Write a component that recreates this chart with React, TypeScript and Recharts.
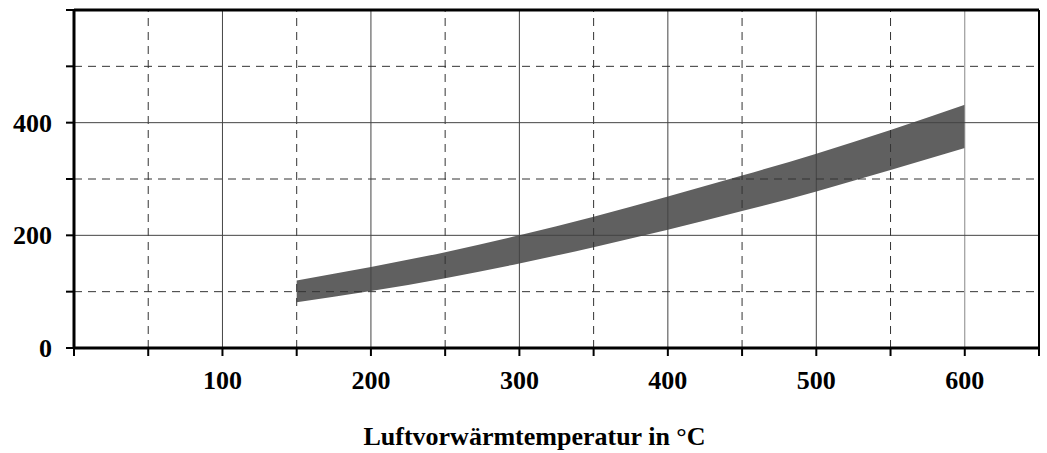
import { ComposedChart, Area, XAxis, YAxis, ReferenceLine, Label } from "recharts"

// Lufttemperatur-Stützstellen und obere/untere Grenze des Bandes
const TEMPS = [150, 200, 250, 300, 350, 400, 450, 500, 550, 600]
const LOWER = [81, 101, 124, 150, 179, 210, 243, 278, 316, 355]
const UPPER = [120, 144, 170, 200, 233, 269, 306, 345, 387, 432]

const X_TICKS = [0, 50, 100, 150, 200, 250, 300, 350, 400, 450, 500, 550, 600, 650]
const X_LABELS = [100, 200, 300, 400, 500, 600]
const Y_TICKS = [0, 100, 200, 300, 400, 500, 600]
const Y_LABELS = [0, 200, 400]

const X_GRID_SOLID = [100, 200, 300, 400, 500, 600]
const X_GRID_DASHED = [50, 150, 250, 350, 450, 550]
const Y_GRID_SOLID = [200, 400]
const Y_GRID_DASHED = [100, 300, 500]

const data = TEMPS.map((t, i) => ({ t, band: [LOWER[i], UPPER[i]] }))

const FONT = "'Liberation Serif', 'Times New Roman', serif"

function XTick({ x, y, payload }: any) {
  if (!X_LABELS.includes(payload.value)) return null
  return (
    <text x={x} y={y + 33} textAnchor="middle" fontFamily={FONT} fontWeight="bold" fontSize={26} fill="#000">
      {payload.value}
    </text>
  )
}

function YTick({ x, y, payload }: any) {
  if (!Y_LABELS.includes(payload.value)) return null
  return (
    <text x={x - 14} y={y + 9} textAnchor="end" fontFamily={FONT} fontWeight="bold" fontSize={26} fill="#000">
      {payload.value}
    </text>
  )
}

export default function App() {
  return (
    <div style={{ position: "absolute", left: 0, top: 0, width: 1047, height: 453, background: "#fff" }}>
      <ComposedChart width={1047} height={453} data={data} margin={{ top: 10, right: 8, bottom: 0, left: 0 }}>
        <XAxis
          dataKey="t"
          type="number"
          domain={[0, 650]}
          ticks={X_TICKS}
          height={105}
          tickSize={8}
          tickMargin={0}
          tick={<XTick />}
          axisLine={{ stroke: "#000", strokeWidth: 3 }}
          tickLine={{ stroke: "#000", strokeWidth: 2 }}
        >
          <Label
            content={({ viewBox }: any) => (
              <text
                x={viewBox.x + viewBox.width / 2 - 22}
                y={viewBox.y + 97}
                textAnchor="middle"
                fontFamily={FONT}
                fontWeight="bold"
                fontSize={26}
                fill="#000"
              >
                Luftvorwärmtemperatur in °C
              </text>
            )}
          />
        </XAxis>
        <YAxis
          type="number"
          domain={[0, 600]}
          ticks={Y_TICKS}
          width={74}
          tickSize={8}
          tickMargin={0}
          tick={<YTick />}
          axisLine={{ stroke: "#000", strokeWidth: 3 }}
          tickLine={{ stroke: "#000", strokeWidth: 2 }}
        />
        <Area
          dataKey="band"
          type="monotone"
          stroke="none"
          fill="#606060"
          fillOpacity={1}
          isAnimationActive={false}
        />
        {X_GRID_SOLID.map((v) => (
          <ReferenceLine key={`xs${v}`} x={v} stroke={v === 600 ? "#888" : "#444"} strokeWidth={1} />
        ))}
        {X_GRID_DASHED.map((v) => (
          <ReferenceLine key={`xd${v}`} x={v} stroke="#333" strokeWidth={1} strokeDasharray="8 6" />
        ))}
        {Y_GRID_SOLID.map((v) => (
          <ReferenceLine key={`ys${v}`} y={v} stroke="#444" strokeWidth={1} />
        ))}
        {Y_GRID_DASHED.map((v) => (
          <ReferenceLine key={`yd${v}`} y={v} stroke="#333" strokeWidth={1} strokeDasharray="8 6" />
        ))}
        {/* Rahmen oben und rechts */}
        <ReferenceLine y={600} stroke="#000" strokeWidth={3} />
        <ReferenceLine x={650} stroke="#000" strokeWidth={2} />
      </ComposedChart>
    </div>
  )
}
